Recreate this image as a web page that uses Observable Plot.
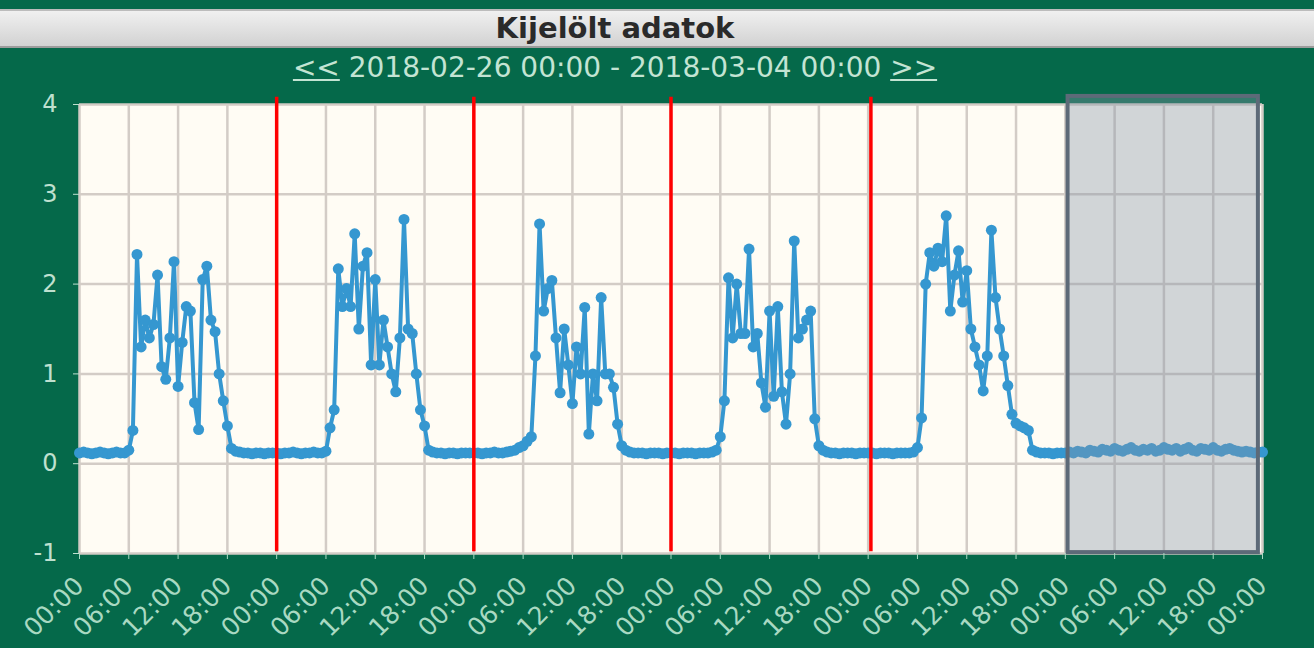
<!DOCTYPE html>
<html>
<head>
<meta charset="utf-8">
<script src="https://cdn.jsdelivr.net/npm/d3@7"></script>
<script src="https://cdn.jsdelivr.net/npm/@observablehq/plot@0.6"></script>
<style>
  html, body { margin: 0; padding: 0; background: #05694a; width: 1314px; height: 648px; overflow: hidden; font-family: "DejaVu Sans", sans-serif; }
  #titlebar { margin-top: 9px; height: 35px; line-height: 35px; text-align: center; font-weight: bold; font-size: 29px; color: #2a2a2a;
    background: linear-gradient(#f0f0f0, #d2d2d2); border-top: 2px solid #bcbcbc; border-bottom: 2px solid #9c9c9c; padding-right: 84px; }
  #subtitle { height: 40px; line-height: 40px; text-align: center; font-size: 28px; color: #c3e4d3; padding-right: 84px; }
  #subtitle u { text-decoration: underline; }
  #chart svg { display: block; }
</style>
</head>
<body>
<div id="titlebar">Kijelölt adatok</div>
<div id="subtitle"><u>&lt;&lt;</u> 2018-02-26 00:00 - 2018-03-04 00:00 <u>&gt;&gt;</u></div>
<div id="chart"></div>
<script>
// Half-hourly readings, 00:00..23:30 for each day
const day1 = [0.12,0.13,0.12,0.11,0.12,0.13,0.12,0.11,0.12,0.13,0.12,0.12,
              0.15,0.37,2.33,1.30,1.60,1.40,1.55,2.10,1.08,0.94,1.40,2.25,
              0.86,1.35,1.75,1.70,0.68,0.38,2.05,2.20,1.60,1.47,1.00,0.70,
              0.42,0.17,0.14,0.13,0.12,0.12,0.11,0.12,0.12,0.11,0.12,0.12];
const day2 = [0.12,0.11,0.12,0.12,0.13,0.12,0.11,0.12,0.12,0.13,0.12,0.12,
              0.14,0.40,0.60,2.17,1.75,1.95,1.75,2.56,1.50,2.20,2.35,1.10,
              2.05,1.10,1.60,1.30,1.00,0.80,1.40,2.72,1.50,1.45,1.00,0.60,
              0.42,0.15,0.13,0.12,0.12,0.11,0.12,0.12,0.11,0.12,0.12,0.12];
const day3 = [0.12,0.12,0.11,0.12,0.12,0.13,0.12,0.12,0.13,0.14,0.15,0.18,
              0.20,0.25,0.30,1.20,2.67,1.70,1.95,2.04,1.40,0.79,1.50,1.10,
              0.67,1.30,1.00,1.74,0.33,1.00,0.70,1.85,1.00,1.00,0.85,0.44,
              0.20,0.15,0.13,0.12,0.12,0.12,0.11,0.12,0.12,0.12,0.11,0.12];
const day4 = [0.12,0.12,0.11,0.12,0.12,0.12,0.11,0.12,0.12,0.12,0.13,0.15,
              0.30,0.70,2.07,1.40,2.00,1.45,1.45,2.39,1.30,1.45,0.90,0.63,
              1.70,0.75,1.75,0.80,0.44,1.00,2.48,1.40,1.50,1.60,1.70,0.50,
              0.20,0.15,0.13,0.12,0.12,0.11,0.12,0.12,0.12,0.11,0.12,0.12];
const day5 = [0.12,0.12,0.11,0.12,0.12,0.12,0.11,0.12,0.12,0.12,0.12,0.13,
              0.18,0.51,2.00,2.35,2.20,2.40,2.25,2.76,1.70,2.10,2.37,1.80,
              2.15,1.50,1.30,1.10,0.81,1.20,2.60,1.85,1.50,1.20,0.87,0.55,
              0.45,0.42,0.40,0.37,0.15,0.13,0.12,0.12,0.12,0.11,0.12,0.12];
const day6 = [0.12,0.13,0.12,0.14,0.13,0.12,0.15,0.14,0.13,0.16,0.15,0.14,
              0.17,0.15,0.14,0.16,0.18,0.15,0.14,0.16,0.15,0.17,0.14,0.15,
              0.18,0.16,0.15,0.17,0.14,0.16,0.18,0.15,0.14,0.17,0.16,0.15,
              0.18,0.15,0.14,0.16,0.17,0.15,0.14,0.13,0.14,0.13,0.12,0.13];
const finalValue = 0.13;

const startDate = "2018-02-26T00:00Z";
const stepMinutes = 30;
const yTicks = [-1, 0, 1, 2, 3, 4];
const markerDates = ["2018-02-27T00:00Z", "2018-02-28T00:00Z", "2018-03-01T00:00Z", "2018-03-02T00:20Z"];
const selection = {from: "2018-03-03T00:20Z", to: "2018-03-03T23:30Z"};

const values = [...day1, ...day2, ...day3, ...day4, ...day5, ...day6, finalValue];
const t0 = new Date(startDate).getTime();
const tEnd = new Date(t0 + (values.length - 1) * stepMinutes * 60000);
const data = values.map((v, i) => ({t: new Date(t0 + i * stepMinutes * 60000), v}));
const sixHourTicks = d3.utcHour.every(6).range(new Date(startDate), new Date(tEnd.getTime() + 1));

const chart = Plot.plot({
  width: 1314,
  height: 560,
  marginTop: 16,
  marginBottom: 95,
  marginLeft: 79,
  marginRight: 52,
  style: {background: "transparent", fontFamily: "DejaVu Sans, sans-serif", overflow: "visible"},
  x: {type: "utc", domain: [new Date(startDate), tEnd]},
  y: {domain: [-1, 4]},
  marks: [
    Plot.frame({fill: "#fffcf4", stroke: null}),
    Plot.gridX(sixHourTicks, {stroke: "#d3ccc6", strokeOpacity: 1, strokeWidth: 2.5}),
    Plot.gridY(yTicks, {stroke: "#d3ccc6", strokeOpacity: 1, strokeWidth: 2.5}),
    Plot.line(data, {x: "t", y: "v", stroke: "#3597d0", strokeWidth: 4}),
    Plot.dot(data, {x: "t", y: "v", r: 5.5, fill: "#3597d0"}),
    Plot.rect([selection], {x1: d => new Date(d.from), x2: d => new Date(d.to), y1: -0.99, y2: 4.09,
      fill: "#8797a8", fillOpacity: 0.38, stroke: "#5d6a78", strokeWidth: 4, clip: false}),
    Plot.ruleX(markerDates.map(d => new Date(d)), {y1: -0.98, y2: 4.08, stroke: "#ff0000", strokeWidth: 3.5}),
    Plot.axisY({ticks: yTicks, tickFormat: d => String(d), tickSize: 6, tickPadding: 16, fontSize: 24, color: "#bfe0cf", label: null}),
    Plot.axisX({ticks: sixHourTicks, tickFormat: d3.utcFormat("%H:%M"), tickRotate: -45, tickSize: 6, tickPadding: 22,
      fontSize: 25, color: "#a9d9c2", label: null})
  ]
});
document.getElementById("chart").appendChild(chart);
</script>
</body>
</html>
